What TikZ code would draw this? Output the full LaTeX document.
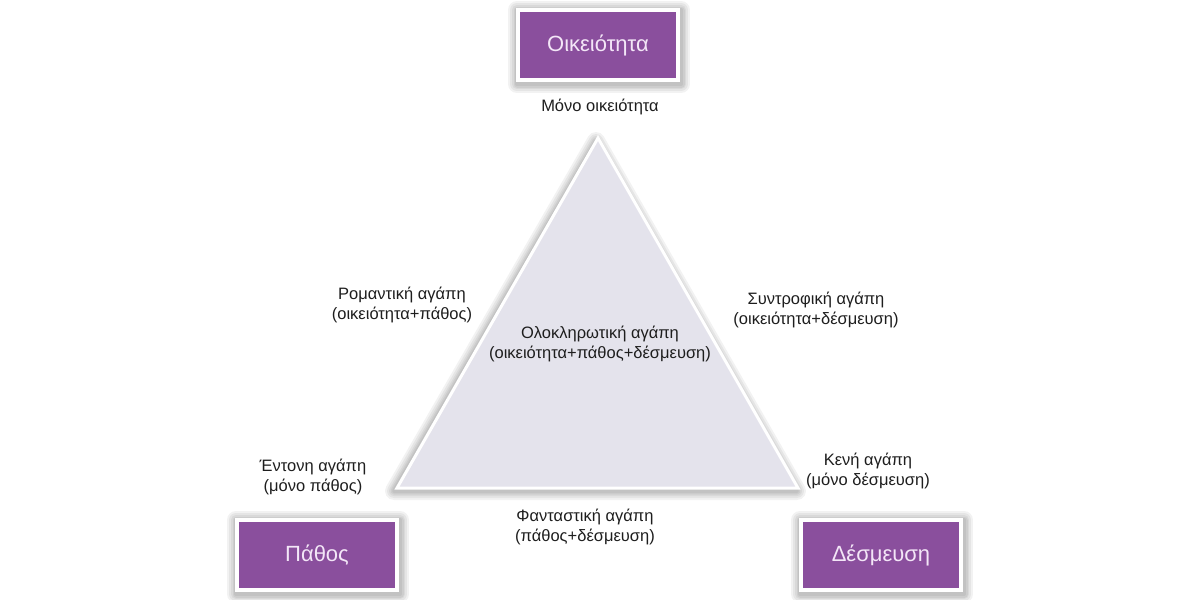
\documentclass[tikz,border=0pt]{standalone}
\usepackage{fontspec}
\setmainfont{Liberation Sans}
\pgfdeclarelayer{background}
\pgfsetlayers{background,main}
\definecolor{boxpurple}{HTML}{8A4F9D}
\definecolor{boxtext}{HTML}{F3E6F7}
\definecolor{trifill}{HTML}{E4E3EC}
\definecolor{labeltext}{HTML}{1E1E1E}
\tikzset{
  cornerbox/.style={draw=white, line width=4pt, fill=boxpurple, minimum width=160pt, minimum height=70pt,
    text=boxtext, font=\fontsize{22}{26}\selectfont},
  lbl/.style={text=labeltext, align=center, font=\fontsize{16.5}{20}\selectfont, inner sep=1pt},
  softshadow/.style={draw=black, opacity=0.05, line join=round, line width=#1}
}
\newcommand{\boxshadow}[1]{%
  \foreach \w in {18,14,10,7,4}{
    \draw[softshadow=\w pt] ([xshift=1pt,yshift=-2pt]#1.north west) rectangle ([xshift=1pt,yshift=-2pt]#1.south east);
  }}
\begin{document}
\begin{tikzpicture}[x=1pt,y=-1pt]
\useasboundingbox (0,0) rectangle (1200,600);
\begin{pgfonlayer}{background}
\fill[white] (0,0) rectangle (1200,600);
\end{pgfonlayer}
% triangle
\coordinate (apex) at (598,138);
\coordinate (bl) at (397,488);
\coordinate (br) at (798,488);
\foreach \w in {18,14,10,7,4}{
  \draw[softshadow=\w pt] ([xshift=-2pt,yshift=-3pt]apex) -- ([xshift=-3pt,yshift=-3pt]bl) -- ([xshift=-1pt,yshift=-3pt]br) -- cycle;
}
\draw[white, line width=3pt, fill=trifill, line join=miter] (apex) -- (bl) -- (br) -- cycle;
% boxes
\node[cornerbox] (oik) at (598,45) {Οικειότητα};
\node[cornerbox] (path) at (317,555) {Πάθος};
\node[cornerbox] (des) at (881,555) {Δέσμευση};
\begin{pgfonlayer}{background}
\boxshadow{oik}
\boxshadow{path}
\boxshadow{des}
\end{pgfonlayer}
% labels
\node[lbl] (mono) at (600,107) {Μόνο οικειότητα};
\node[lbl] (rom) at (402,305) {Ρομαντική αγάπη\\(οικειότητα+πάθος)};
\node[lbl] (syn) at (816,310) {Συντροφική αγάπη\\(οικειότητα+δέσμευση)};
\node[lbl] (olo) at (600,344) {Ολοκληρωτική αγάπη\\(οικειότητα+πάθος+δέσμευση)};
\node[lbl] (ent) at (313,477) {Έντονη αγάπη\\(μόνο πάθος)};
\node[lbl] (ken) at (868,471) {Κενή αγάπη\\(μόνο δέσμευση)};
\node[lbl] (fan) at (585,527) {Φανταστική αγάπη\\(πάθος+δέσμευση)};
\end{tikzpicture}
\end{document}
